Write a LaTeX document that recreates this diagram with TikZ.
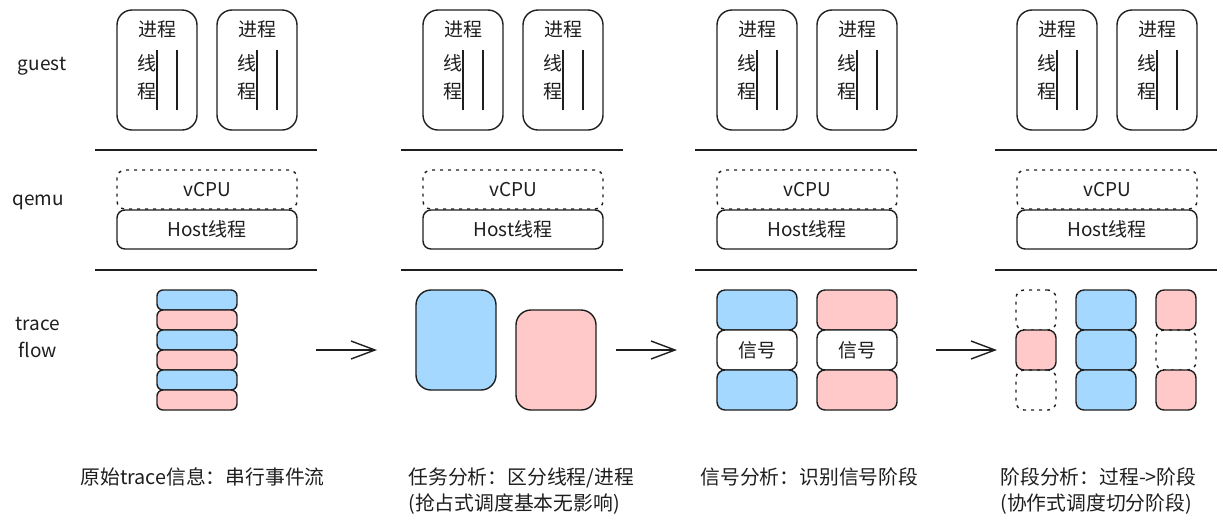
\documentclass[tikz,border=0pt]{standalone}
\usepackage{fontspec}
\setmainfont{Noto Sans CJK SC}
\usepackage{tikz}
\usetikzlibrary{%
  arrows.meta,%
  calc,%
  positioning}

\definecolor{ink}{HTML}{1E1E1E}
\definecolor{bleu}{HTML}{A5D8FF}
\definecolor{rose}{HTML}{FFC9C9}

\tikzset{
  boite/.style={rectangle,draw=ink,line width=0.7pt,inner sep=0pt,rounded corners=#1},
  boite/.default=4pt,
  pointille/.style={dash pattern=on 1.5pt off 2.5pt},
  texte/.style={text=ink,font=\fontsize{9.5}{12}\selectfont,inner sep=0pt},
  legende/.style={text=ink,font=\fontsize{9.9}{13}\selectfont,inner sep=0pt,align=left,anchor=north west},
  fleche/.style={draw=ink,line width=0.7pt,-{Straight Barb[length=12pt,width=9pt]}}
}

\begin{document}
\begin{tikzpicture}
\begin{scope}[x=0.5pt,y=-0.5pt]
\useasboundingbox (0,0) rectangle (1226,527);
% etiquettes des niveaux
\node (guest) at (42,66) [texte] {guest};
\node (qemu) at (38,202) [texte] {qemu};
\node (flow) at (38,337) [texte,align=center,font=\fontsize{9.5}{13.5}\selectfont] {trace\\flow};
% partie haute : guest et qemu, une fois par colonne
\foreach \c/\dx in {a/0,b/306,c/600,d/900} {
  \foreach \p/\px in {1/0,2/100} {
    \node (P\c\p) at (157+\dx+\px,70) [boite=7.5pt,minimum width=40pt,minimum height=60pt] {};
    \node (N\c\p) at (157+\dx+\px,29) [texte] {进程};
    \node (X\c\p) at (147+\dx+\px,63) [texte] {线};
    \node (Y\c\p) at (147+\dx+\px,91) [texte] {程};
    \draw[ink,line width=0.7pt] (157+\dx+\px,50) -- (157+\dx+\px,110);
    \draw[ink,line width=0.7pt] (177+\dx+\px,50) -- (177+\dx+\px,110);
  }
  \coordinate (H\c) at (95+\dx,150);
  \coordinate (K\c) at (317+\dx,150);
  \coordinate (L\c) at (95+\dx,270);
  \coordinate (M\c) at (317+\dx,270);
  \draw[ink,line width=0.9pt] (H\c) -- (K\c);
  \draw[ink,line width=0.9pt] (L\c) -- (M\c);
  \node (V\c) at (207+\dx,189.5) [boite,pointille,minimum width=90pt,minimum height=19.5pt,texte] {vCPU};
  \node (T\c) at (207+\dx,229.5) [boite,minimum width=90pt,minimum height=19.5pt,texte] {Host线程};
}
% trace flow : flux serie
\foreach \k/\col in {0/bleu,1/rose,2/bleu,3/rose,4/bleu,5/rose}
  \node (S\k) at (197,300+20*\k) [boite=3pt,fill=\col,minimum width=40pt,minimum height=10pt] {};
% taches
\node (TB) at (456,340) [boite=7.5pt,fill=bleu,minimum width=40pt,minimum height=50pt] {};
\node (TR) at (556,360) [boite=7.5pt,fill=rose,minimum width=40pt,minimum height=50pt] {};
% signaux
\node (SB1) at (757,310) [boite,fill=bleu,minimum width=40pt,minimum height=20pt] {};
\node (SB2) at (757,350) [boite,fill=white,minimum width=40pt,minimum height=20pt,texte] {信号};
\node (SB3) at (757,390) [boite,fill=bleu,minimum width=40pt,minimum height=20pt] {};
\node (SR1) at (857,310) [boite,fill=rose,minimum width=40pt,minimum height=20pt] {};
\node (SR2) at (857,350) [boite,fill=white,minimum width=40pt,minimum height=20pt,texte] {信号};
\node (SR3) at (857,390) [boite,fill=rose,minimum width=40pt,minimum height=20pt] {};
% phases
\node (PA1) at (1036,310) [boite,pointille,minimum width=20pt,minimum height=20pt] {};
\node (PA2) at (1036,350) [boite,fill=rose,minimum width=20pt,minimum height=20pt] {};
\node (PA3) at (1036,390) [boite,pointille,minimum width=20pt,minimum height=20pt] {};
\node (PB1) at (1106,310) [boite,fill=bleu,minimum width=30pt,minimum height=20pt] {};
\node (PB2) at (1106,350) [boite,fill=bleu,minimum width=30pt,minimum height=20pt] {};
\node (PB3) at (1106,390) [boite,fill=bleu,minimum width=30pt,minimum height=20pt] {};
\node (PC1) at (1176,310) [boite,fill=rose,minimum width=20pt,minimum height=20pt] {};
\node (PC2) at (1176,350) [boite,pointille,minimum width=20pt,minimum height=20pt] {};
\node (PC3) at (1176,390) [boite,fill=rose,minimum width=20pt,minimum height=20pt] {};
% fleches entre les etapes
\coordinate (A1) at (316,350);
\coordinate (B1) at (377,350);
\coordinate (A2) at (616,350);
\coordinate (B2) at (677,350);
\coordinate (A3) at (936,350);
\coordinate (B3) at (997,350);
\draw[fleche] (A1) -- (B1);
\draw[fleche] (A2) -- (B2);
\draw[fleche] (A3) -- (B3);
% legendes
\node (G1) at (80,467) [legende] {原始trace信息：串行事件流};
\node (G2) at (408,467) [legende] {任务分析：区分线程/进程\\(抢占式调度基本无影响)};
\node (G3) at (700,467) [legende] {信号分析：识别信号阶段};
\node (G4) at (1000,467) [legende] {阶段分析：过程->阶段\\(协作式调度切分阶段)};
\end{scope}
\end{tikzpicture}
\end{document}
